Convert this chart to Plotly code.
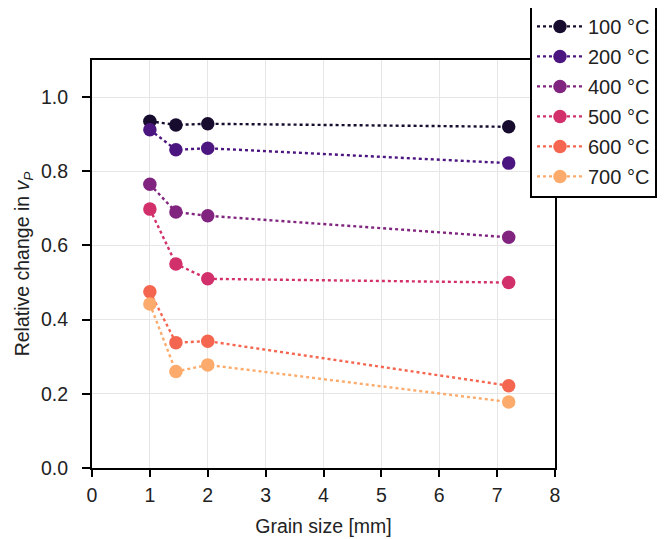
import plotly.graph_objects as go

grain_size = [1.0, 1.45, 2.0, 7.2]
labels = ["100 °C", "200 °C", "400 °C", "500 °C", "600 °C", "700 °C"]
v100 = [0.935, 0.925, 0.928, 0.920]
v200 = [0.912, 0.858, 0.862, 0.822]
v400 = [0.765, 0.690, 0.680, 0.622]
v500 = [0.698, 0.550, 0.510, 0.500]
v600 = [0.475, 0.338, 0.342, 0.222]
v700 = [0.442, 0.260, 0.278, 0.178]
colors = ["#170c2e", "#4c1680", "#80247f", "#d2306a", "#f4664f", "#fcab6c"]

series = [v100, v200, v400, v500, v600, v700]

fig = go.Figure()
for lab, vals, c in zip(labels, series, colors):
    fig.add_trace(go.Scatter(
        x=grain_size, y=vals, name=lab, mode="lines+markers", legendgroup=lab,
        line=dict(color=c, width=2.4, dash="dot"),
        marker=dict(color=c, size=13.5, line=dict(width=0)),
    ))

axis_common = dict(
    showline=True, linecolor="black", linewidth=2, mirror=True,
    ticks="outside", tickwidth=2, tickcolor="black",
    showgrid=True, gridcolor="#e6e6e6", gridwidth=1, zeroline=False,
    tickfont=dict(size=19.5, color="#222"),
)

fig.update_layout(
    width=657, height=531,
    margin=dict(l=84, r=110, t=52, b=71, autoexpand=False),
    paper_bgcolor="white", plot_bgcolor="white",
    font=dict(family="Liberation Sans, Arial, sans-serif", color="#222"),
    xaxis=dict(range=[0, 8], dtick=1, ticklen=7, ticklabelstandoff=2,
               title=dict(text="Grain size [mm]", font=dict(size=19.5), standoff=14),
               **axis_common),
    yaxis=dict(range=[0, 1.1], tickvals=[0, 0.2, 0.4, 0.6, 0.8, 1.0],
               ticktext=["0.0", "0.2", "0.4", "0.6", "0.8", "1.0"],
               ticklen=8, ticklabelstandoff=10,
               title=dict(text="Relative change in <i>v</i><sub><i>P</i></sub>", font=dict(size=19.5), standoff=6),
               **axis_common),
    legend=dict(x=0.946, y=1.135, xanchor="left", yanchor="top",
                bgcolor="white", bordercolor="black", borderwidth=2,
                font=dict(size=20, color="#222"), tracegroupgap=1, itemwidth=46),
    showlegend=True,
)

fig.write_html("out.html")
